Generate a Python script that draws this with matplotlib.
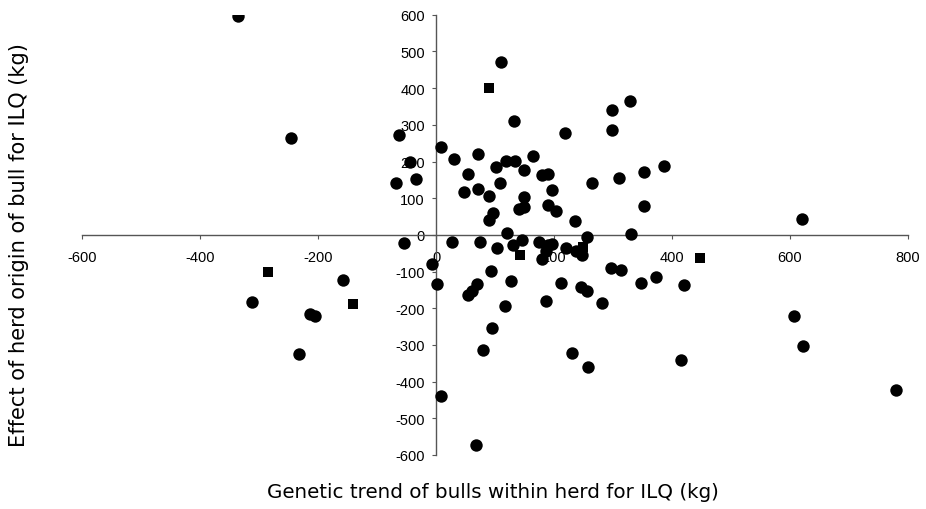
import matplotlib
matplotlib.use("Agg")
from matplotlib import pyplot as plt

plt.rcParams['axes.unicode_minus'] = False

# bulls plotted as circles: genetic trend (x) and herd origin effect (y), kg
circle_x = [-336, -246, -62, -68, -44, -34,
            -55, 27, -7, 2, 9, 67,
            -312, -158, -213, -206, -232,
            8, 31, 71, 55, 47, 71, 89, 101, 108, 118, 134, 132, 149, 164,
            149, 141, 149, 96, 90, 180, 189, 196, 189, 203, 218, 235, 121, 110,
            299, 328, 299, 264, 310, 353, 386, 353, 256, 331, 621,
            74, 104, 131, 146, 174, 180, 190, 197, 186, 220, 238, 248,
            93, 127, 61, 55, 69, 117, 95, 80,
            211, 187, 231, 257,
            296, 314, 246, 256, 281, 347, 372, 420, 416,
            606, 622, 779]
circle_y = [597, 263, 272, 142, 200, 151,
            -22, -20, -79, -135, -440, -572,
            -183, -124, -215, -222, -324,
            239, 207, 221, 166, 116, 125, 107, 184, 141, 202, 202, 311, 178, 214,
            103, 71, 75, 60, 40, 163, 166, 123, 82, 66, 277, 37, 4, 470,
            341, 364, 287, 141, 154, 171, 189, 78, -5, 3, 42,
            -20, -36, -27, -14, -20, -65, -28, -26, -45, -36, -45, -56,
            -98, -126, -152, -165, -133, -195, -253, -315,
            -132, -179, -322, -360,
            -90, -97, -143, -152, -186, -132, -115, -138, -341,
            -220, -302, -424]

# bulls plotted as squares
square_x = [89, -285, -141, 447, 142, 249]
square_y = [400, -100, -188, -64, -55, -33]

x_ticks = [-600, -400, -200, 0, 200, 400, 600, 800]
y_ticks = [-600, -500, -400, -300, -200, -100, 0, 100, 200, 300, 400, 500, 600]

fig = plt.figure(figsize=(9.26, 5.10), dpi=100)
ax = fig.add_axes([0.0886, 0.106, 0.892, 0.863])

ax.scatter(circle_x, circle_y, s=80, marker='o', color='black', linewidths=0, zorder=3)
ax.scatter(square_x, square_y, s=55, marker='s', color='black', linewidths=0, zorder=3)

ax.set_xlim(-600, 800)
ax.set_ylim(-600, 600)
ax.set_xticks(x_ticks)
ax.set_yticks(y_ticks)

#axes cross at the origin
ax.spines['left'].set_position(('data', 0))
ax.spines['bottom'].set_position(('data', 0))
ax.spines['top'].set_visible(False)
ax.spines['right'].set_visible(False)
for side in ['left', 'bottom']:
    ax.spines[side].set_color('#555555')
    ax.spines[side].set_linewidth(1.0)

ax.tick_params(axis='both', direction='out', length=3, width=0.8, color='#555555',
               labelsize=10.5, labelcolor='black')
ax.tick_params(axis='x', pad=8)
ax.tick_params(axis='y', pad=5)
for lbl in ax.get_xticklabels() + ax.get_yticklabels():
    lbl.set_family('Liberation Sans')

fig.text(0.532, 0.035, 'Genetic trend of bulls within herd for ILQ (kg)',
         ha='center', va='center', fontsize=14.3, family='DejaVu Sans')
fig.text(0.021, 0.52, 'Effect of herd origin of bull for ILQ (kg)',
         ha='center', va='center', rotation=90, fontsize=15.1, family='DejaVu Sans')

fig.savefig('out.png', dpi=100)
